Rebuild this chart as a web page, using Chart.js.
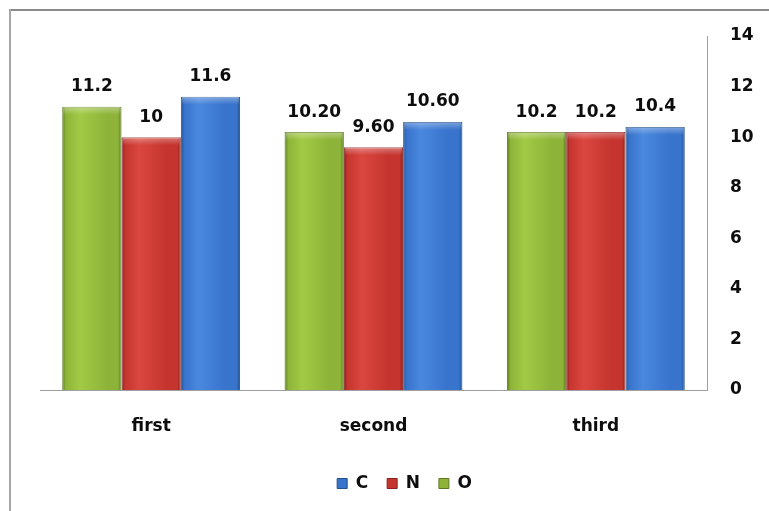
<!DOCTYPE html>
<html>
<head>
<meta charset="utf-8">
<script src="https://cdn.jsdelivr.net/npm/chart.js@4.4.0/dist/chart.umd.min.js"></script>
<style>
  html, body { margin: 0; padding: 0; background: #ffffff; }
  #wrap { position: relative; width: 769px; height: 511px; }
  canvas { display: block; }
</style>
</head>
<body>
<div id="wrap"><canvas id="chart" width="769" height="511"></canvas></div>
<script>
// Categories and series values
const categories = ['first', 'second', 'third'];
const valuesO = [11.2, 10.2, 10.2];
const valuesN = [10, 9.6, 10.2];
const valuesC = [11.6, 10.6, 10.4];
// Decimal places used for the value labels of each category (null = as is)
const labelDecimals = [null, 2, null];
// Tick labels of the value axis
const yTicks = [0, 2, 4, 6, 8, 10, 12, 14];

// Bevel palettes: base colour, light highlight, dark edge
const palette = {
  O: { base: '#8db438', light: '#a2ca46', dark: '#5c7a20' },
  N: { base: '#c5342e', light: '#da4740', dark: '#88221e' },
  C: { base: '#3873cc', light: '#4a88de', dark: '#22518c' }
};

const FONT = 'DejaVu Sans';
const TEXT = '#0d0d0d';

function fmt(v, i) {
  const d = labelDecimals[i];
  return d == null ? String(v) : v.toFixed(d);
}

// Horizontal bevel gradient built from each bar's computed geometry
const bevelFill = {
  id: 'bevelFill',
  beforeDatasetsDraw(chart) {
    const ctx = chart.ctx;
    chart.data.datasets.forEach((ds, di) => {
      const p = palette[ds.label];
      chart.getDatasetMeta(di).data.forEach(el => {
        const { x, width } = el.getProps(['x', 'width'], true);
        const l = x - width / 2;
        const g = ctx.createLinearGradient(l, 0, l + width, 0);
        g.addColorStop(0, p.dark);
        g.addColorStop(0.06, p.base);
        g.addColorStop(0.3, p.light);
        g.addColorStop(0.75, p.base);
        g.addColorStop(0.94, p.base);
        g.addColorStop(1, p.dark);
        el.options = Object.assign({}, el.options, { backgroundColor: g });
      });
    });
  },
  afterDatasetsDraw(chart) {
    const ctx = chart.ctx;
    ctx.save();
    chart.data.datasets.forEach((ds, di) => {
      chart.getDatasetMeta(di).data.forEach(el => {
        const { x, y, width } = el.getProps(['x', 'y', 'width'], true);
        const l = x - width / 2;
        const g = ctx.createLinearGradient(0, y, 0, y + 8);
        g.addColorStop(0, 'rgba(255,255,255,0.35)');
        g.addColorStop(1, 'rgba(255,255,255,0)');
        ctx.fillStyle = g;
        ctx.fillRect(l + 1, y, width - 2, 8);
      });
    });
    ctx.restore();
  }
};

// Value labels above each bar
const valueLabels = {
  id: 'valueLabels',
  afterDatasetsDraw(chart) {
    const ctx = chart.ctx;
    ctx.save();
    ctx.font = 'bold 17px "' + FONT + '"';
    ctx.fillStyle = TEXT;
    ctx.textAlign = 'center';
    ctx.textBaseline = 'middle';
    chart.data.datasets.forEach((ds, di) => {
      chart.getDatasetMeta(di).data.forEach((el, i) => {
        const { x, y } = el.getProps(['x', 'y'], true);
        ctx.fillText(fmt(ds.data[i], i), x, y - 20);
      });
    });
    ctx.restore();
  }
};

// Outer frame lines of the chart box
const frame = {
  id: 'frame',
  beforeDraw(chart) {
    const ctx = chart.ctx;
    ctx.save();
    ctx.fillStyle = '#ffffff';
    ctx.fillRect(0, 0, chart.width, chart.height);
    ctx.lineWidth = 2;
    ctx.strokeStyle = '#8a8a8a';
    ctx.beginPath();
    ctx.moveTo(9, 10);
    ctx.lineTo(chart.width, 10);
    ctx.stroke();
    ctx.strokeStyle = '#a6a6a6';
    ctx.beginPath();
    ctx.moveTo(10, 9);
    ctx.lineTo(10, chart.height);
    ctx.stroke();
    ctx.restore();
  }
};

Chart.defaults.font.family = FONT;
Chart.defaults.font.weight = 'bold';
Chart.defaults.font.size = 17;
Chart.defaults.color = TEXT;

new Chart(document.getElementById('chart'), {
  type: 'bar',
  data: {
    labels: categories,
    datasets: [
      { label: 'O', data: valuesO, backgroundColor: palette.O.base, borderColor: palette.O.dark, borderWidth: 1 },
      { label: 'N', data: valuesN, backgroundColor: palette.N.base, borderColor: palette.N.dark, borderWidth: 1 },
      { label: 'C', data: valuesC, backgroundColor: palette.C.base, borderColor: palette.C.dark, borderWidth: 1 }
    ]
  },
  options: {
    responsive: false,
    animation: false,
    layout: { padding: { left: 40, right: 0, top: 36, bottom: 9 } },
    datasets: { bar: { categoryPercentage: 0.8, barPercentage: 1.0 } },
    scales: {
      x: {
        grid: { display: false, drawTicks: false },
        border: { display: true, color: '#a0a0a0', width: 1 },
        ticks: { padding: 26, font: { size: 17, weight: 'bold' }, color: TEXT },
        afterFit(s) { s.height = 66; }
      },
      y: {
        position: 'right',
        min: 0,
        max: 14,
        grid: { display: false, drawTicks: false },
        border: { display: true, color: '#a0a0a0', width: 1 },
        ticks: { padding: 23, font: { size: 17, weight: 'bold' }, color: TEXT },
        afterBuildTicks(s) { s.ticks = yTicks.map(v => ({ value: v })); },
        afterFit(s) { s.width = 62; }
      }
    },
    plugins: {
      legend: {
        position: 'bottom',
        reverse: true,
        labels: {
          boxWidth: 10,
          boxHeight: 10,
          padding: 19,
          font: { size: 17, weight: 'bold' },
          color: TEXT
        }
      },
      tooltip: { enabled: false }
    }
  },
  plugins: [frame, bevelFill, valueLabels]
});
</script>
</body>
</html>
